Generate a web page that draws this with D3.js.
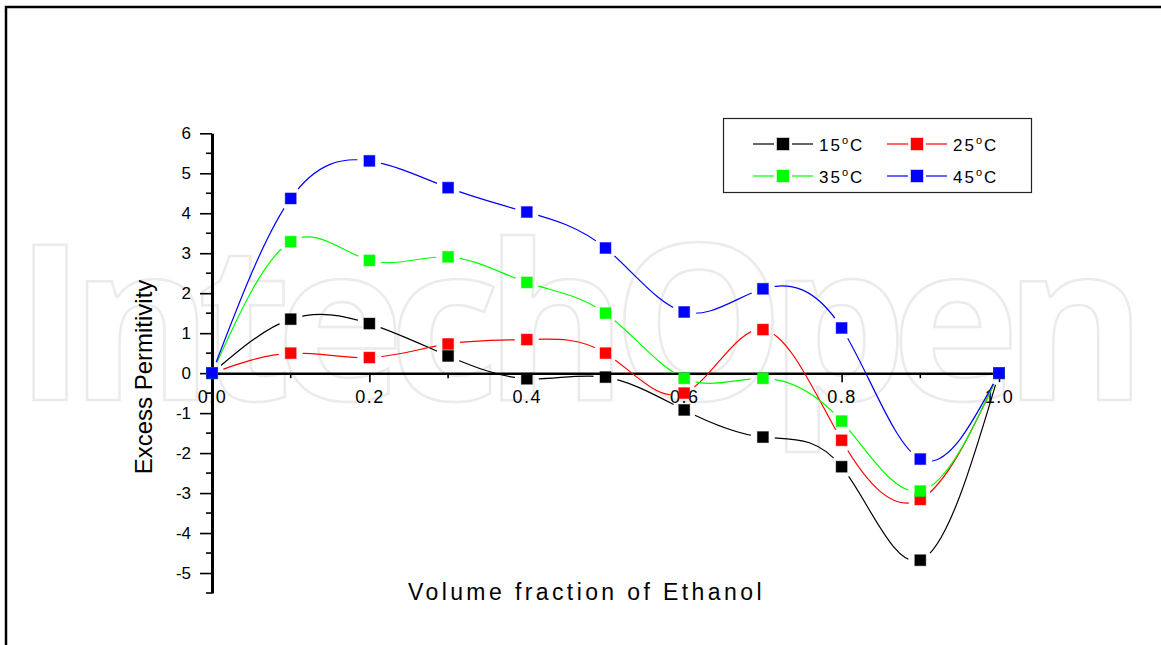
<!DOCTYPE html>
<html>
<head>
<meta charset="utf-8">
<script src="https://cdn.jsdelivr.net/npm/d3@7"></script>
<style>
  body { margin: 0; background: #fff; }
  text { font-family: "Liberation Sans", Arial, sans-serif; fill: #000; }
</style>
</head>
<body>
<svg id="chart" width="1161" height="645"></svg>
<script>
// data
var fractions = [0, 0.1, 0.2, 0.3, 0.4, 0.5, 0.6, 0.7, 0.8, 0.9, 1.0];
var t15 = [0, 1.35, 1.24, 0.43, -0.14, -0.10, -0.92, -1.60, -2.34, -4.68, 0];
var t25 = [0, 0.50, 0.39, 0.73, 0.84, 0.50, -0.50, 1.09, -1.68, -3.16, 0];
var t35 = [0, 3.29, 2.82, 2.91, 2.27, 1.50, -0.13, -0.13, -1.20, -2.95, 0];
var t45 = [0, 4.37, 5.31, 4.64, 4.03, 3.13, 1.53, 2.11, 1.13, -2.15, 0];
var seriesNames = ["15", "25", "35", "45"];
var seriesColors = ["#000000", "#ff0000", "#00ff00", "#0000ff"];
var xTicks = [0, 0.2, 0.4, 0.6, 0.8, 1.0];
var xMinor = [0.1, 0.3, 0.5, 0.7, 0.9];
var yTicks = [-5, -4, -3, -2, -1, 0, 1, 2, 3, 4, 5, 6];
var yMinor = [-5.5, -4.5, -3.5, -2.5, -1.5, -0.5, 0.5, 1.5, 2.5, 3.5, 4.5, 5.5];

var svg = d3.select("#chart");
var allSeries = [t15, t25, t35, t45];

var x = d3.scaleLinear().domain([0, 1]).range([212, 999]);
var y = d3.scaleLinear().domain([-5.5, 6]).range([593, 133.3]);

// outer frame
svg.append("rect")
  .attr("x", 6).attr("y", 7)
  .attr("width", 1200).attr("height", 700)
  .attr("fill", "none").attr("stroke", "#000").attr("stroke-width", 2.5);

// faint watermark
svg.append("text")
  .attr("x", 14).attr("y", 400)
  .attr("textLength", 1133).attr("lengthAdjust", "spacing")
  .style("font-family", "'Open Sans', sans-serif")
  .style("font-weight", "bold")
  .style("font-size", "218px")
  .style("fill", "none")
  .style("stroke", "#ebebeb")
  .style("stroke-width", 2.5)
  .text("IntechOpen");

// y axis
var yAxis = svg.append("g").attr("transform", "translate(" + x(0) + ",0)");
yAxis.call(d3.axisLeft(y).tickValues(yTicks).tickSize(12).tickSizeOuter(0).tickFormat(d => String(d)).tickPadding(9));
yAxis.select(".domain").attr("stroke-width", 3);
yAxis.selectAll(".tick line").attr("stroke-width", 1.6);
yAxis.selectAll(".tick text").style("font-size", "17px").style("font-family", "'Liberation Sans', Arial, sans-serif");
yAxis.append("g").selectAll("line")
  .data(yMinor).enter().append("line")
  .attr("x1", -6).attr("x2", 0)
  .attr("y1", d => y(d)).attr("y2", d => y(d))
  .attr("stroke", "#000").attr("stroke-width", 1.6);

// x axis along zero
var xAxis = svg.append("g").attr("transform", "translate(0," + y(0) + ")");
xAxis.call(d3.axisBottom(x).tickValues(xTicks).tickSize(9).tickSizeOuter(0).tickFormat(d3.format(".1f")));
xAxis.select(".domain").attr("stroke-width", 2.5);
xAxis.selectAll(".tick line").attr("stroke-width", 1.6);
xAxis.selectAll(".tick text")
  .attr("y", 30).attr("dy", null)
  .style("font-size", "18px")
  .style("letter-spacing", "1.5px")
  .style("font-family", "'Liberation Sans', Arial, sans-serif");
xAxis.append("g").selectAll("line")
  .data(xMinor).enter().append("line")
  .attr("x1", d => x(d)).attr("x2", d => x(d))
  .attr("y1", 0).attr("y2", 5)
  .attr("stroke", "#000").attr("stroke-width", 1.6);

// axis titles
svg.append("text")
  .attr("x", 408).attr("y", 600)
  .style("font-size", "23px")
  .style("letter-spacing", "3.4px")
  .text("Volume fraction of Ethanol");

svg.append("text")
  .attr("transform", "translate(152,377) rotate(-90)")
  .attr("text-anchor", "middle")
  .style("font-size", "24px")
  .text("Excess Permitivity");

// curves, with gaps around the symbols like the original
var line = d3.line()
  .x((d, i) => x(fractions[i]))
  .y(d => y(d))
  .curve(d3.curveNatural);

var defs = svg.append("defs");
allSeries.forEach(function (vals, k) {
  var m = defs.append("mask").attr("id", "gap" + k).attr("maskUnits", "userSpaceOnUse")
    .attr("x", 0).attr("y", 0).attr("width", 1161).attr("height", 645);
  m.append("rect").attr("width", 1161).attr("height", 645).attr("fill", "#fff");
  m.selectAll("circle").data(vals).enter().append("circle")
    .attr("cx", (d, i) => x(fractions[i]))
    .attr("cy", d => y(d))
    .attr("r", 12).attr("fill", "#000");
});

var plot = svg.append("g");
allSeries.forEach(function (vals, k) {
  plot.append("path")
    .datum(vals)
    .attr("d", line)
    .attr("fill", "none")
    .attr("stroke", seriesColors[k])
    .attr("stroke-width", 1.2)
    .attr("mask", "url(#gap" + k + ")");
});

allSeries.forEach(function (vals, k) {
  plot.append("g").selectAll("rect")
    .data(vals).enter().append("rect")
    .attr("x", (d, i) => x(fractions[i]) - 5.5)
    .attr("y", d => y(d) - 5.5)
    .attr("width", 11).attr("height", 11)
    .attr("fill", seriesColors[k])
    .attr("stroke", seriesColors[k]).attr("stroke-opacity", 0.45).attr("stroke-width", 1);
});

// legend
var legend = svg.append("g");
legend.append("rect")
  .attr("x", 723.5).attr("y", 118.5)
  .attr("width", 308).attr("height", 74)
  .attr("fill", "#fff").attr("stroke", "#222").attr("stroke-width", 1.2);

var legendPos = [[753, 144], [887, 144], [753, 176], [887, 176]];
seriesNames.forEach(function (name, k) {
  var p = legendPos[k], g = legend.append("g").attr("transform", "translate(" + p[0] + "," + p[1] + ")");
  g.append("line").attr("x1", 0).attr("x2", 21).attr("y1", 0).attr("y2", 0)
    .attr("stroke", seriesColors[k]).attr("stroke-width", 1.2);
  g.append("line").attr("x1", 39).attr("x2", 60).attr("y1", 0).attr("y2", 0)
    .attr("stroke", seriesColors[k]).attr("stroke-width", 1.2);
  g.append("rect").attr("x", 24).attr("y", -6).attr("width", 12).attr("height", 12)
    .attr("fill", seriesColors[k]).attr("stroke", seriesColors[k]).attr("stroke-opacity", 0.45);
  var t = g.append("text").attr("x", 66).attr("y", 7)
    .style("font-size", "17px").style("letter-spacing", "2px");
  t.append("tspan").text(name);
  t.append("tspan").attr("dy", -7).style("font-size", "11px").text("o");
  t.append("tspan").attr("dy", 7).text("C");
});
</script>
</body>
</html>
